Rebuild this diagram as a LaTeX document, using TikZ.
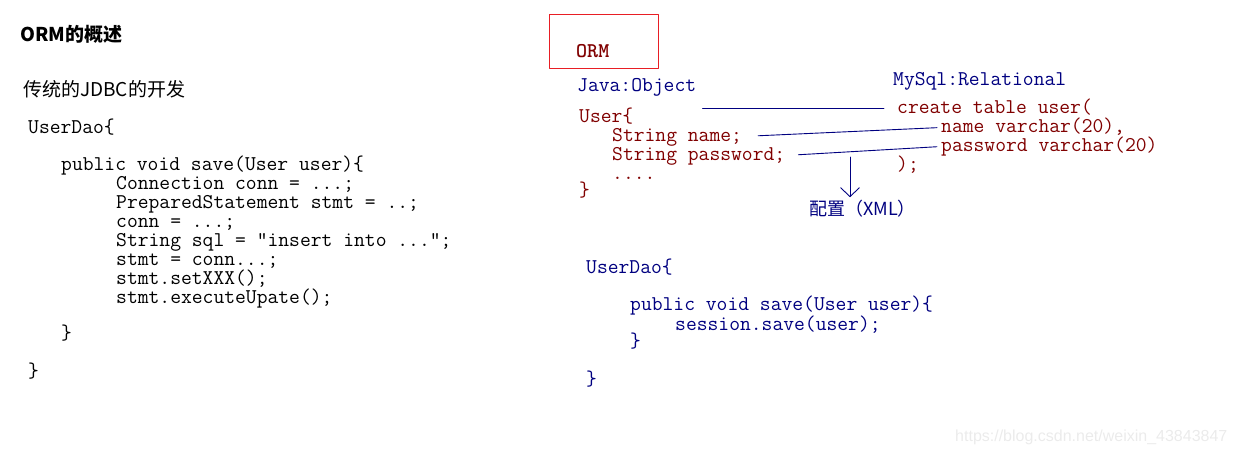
\documentclass[tikz,border=0pt]{standalone}
\usepackage{fontspec}
\newfontfamily\cjk{Noto Sans CJK SC}
\newfontfamily\wmfont{Liberation Sans}
\usetikzlibrary{arrows.meta}
\definecolor{ormred}{RGB}{128,0,0}
\definecolor{ormblue}{RGB}{0,0,128}
\definecolor{boxred}{RGB}{232,30,36}
\tikzset{
  code/.style={anchor=base west, inner sep=0pt, text height=12.5pt, text depth=3.5pt, font=\ttfamily\fontsize{21}{21}\selectfont},
  head/.style={anchor=west, inner sep=0pt, font=\cjk\fontsize{19}{19}\selectfont},
  link/.style={draw=ormblue, line width=0.9pt},
}
\begin{document}
\begin{tikzpicture}[x=1pt, y=-1pt, line join=round, line cap=round]
	\useasboundingbox (0,0) rectangle (1235,455);
	
	% Left: the plain JDBC way
	\node[head, font=\cjk\bfseries\fontsize{19}{19}\selectfont] (title) at (20,34) {ORM的概述};
	\node[head] (jdbc) at (23,89) {传统的JDBC的开发};
	\node[code] (dao) at (28,133) {UserDao\{};
	\node[code] (save) at (61,170) {public void save(User user)\{};
	\node[code] (b1) at (116,189) {Connection conn = ...;};
	\node[code] (b2) at (116,208) {PreparedStatement stmt = ..;};
	\node[code] (b3) at (116,227) {conn = ...;};
	\node[code] (b4) at (116,246) {String sql = "insert into ...";};
	\node[code] (b5) at (116,265) {stmt = conn...;};
	\node[code] (b6) at (116,284) {stmt.setXXX();};
	\node[code] (b7) at (116,303) {stmt.executeUpate();};
	\node[code] (saveend) at (61,339) {\}};
	\node[code] (daoend) at (28,377) {\}};
	
	% Right: object side and table side
	\draw[boxred, line width=1pt] (549,14) rectangle (658,68);
	\node[code, ormred, font=\ttfamily\bfseries\fontsize{21}{21}\selectfont] (orm) at (576,57) {ORM};
	\node[code, ormblue] (java) at (577,91) {Java:Object};
	\node[code, ormred] (usr) at (579,122) {User\{};
	\node[code, ormred] (uname) at (612,141) {String name;};
	\node[code, ormred] (upass) at (612,160) {String password;};
	\node[code, ormred] (udots) at (612,179) {....};
	\node[code, ormred] (uend) at (579,196) {\}};
	
	\node[code, ormblue] (mysql) at (893,85) {MySql:Relational};
	\node[code, ormred] (crt) at (897,113) {create table user(};
	\node[code, ormred] (cname) at (941,132) {name varchar(20),};
	\node[code, ormred] (cpass) at (941,151) {password varchar(20)};
	\node[code, ormred] (cend) at (897,170) {);};
	
	% Mapping lines
	\draw[link, shorten <=69pt, shorten >=13pt] (usr.east |- crt.west) -- (crt.west);
	\draw[link, shorten <=16pt, shorten >=4pt] (uname.east) -- (cname.west);
	\draw[link, shorten <=13pt, shorten >=4pt] (upass.east) -- (cpass.west);
	
	% Mapping kept in a config file
	\coordinate (cfg) at (850,157);
	\node[head, ormblue, font=\cjk\fontsize{18}{18}\selectfont] (xml) at (809,209) {配置（XML）};
	\draw[link, shorten >=3pt, -{Straight Barb[length=9pt, width=19pt]}] (cfg) -- (cfg |- xml.north);
	
	% Right: the ORM way
	\node[code, ormblue] (dao2) at (586,273) {UserDao\{};
	\node[code, ormblue] (save2) at (630,310) {public void save(User user)\{};
	\node[code, ormblue] (sess) at (675,330) {session.save(user);};
	\node[code, ormblue] (save2end) at (630,347) {\}};
	\node[code, ormblue] (dao2end) at (586,385) {\}};
	
	% Watermark
	\node[anchor=base west, inner sep=0pt, text=black!8, font=\wmfont\fontsize{16}{16}\selectfont] (mark) at (955,441) {https://blog.csdn.net/weixin\_43843847};
\end{tikzpicture}
\end{document}
